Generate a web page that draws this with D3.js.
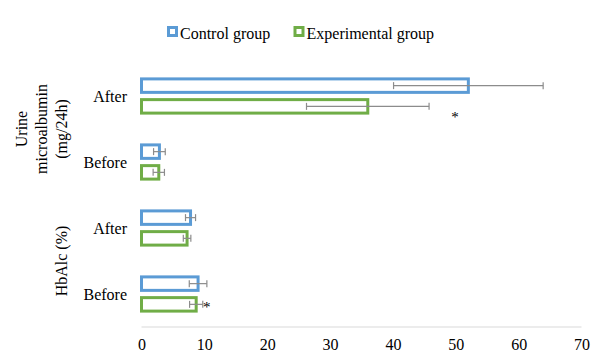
<!DOCTYPE html>
<html>
<head>
<meta charset="utf-8">
<script src="https://cdn.jsdelivr.net/npm/d3@7"></script>
<style>
  html, body { margin: 0; padding: 0; background: #fff; }
  svg { display: block; }
  text { font-family: "Liberation Serif", "Times New Roman", serif; fill: #000; }
</style>
</head>
<body>
<svg id="chart" width="593" height="355"></svg>
<script>
// Category rows, top to bottom
const rows = ["uAfter", "uBefore", "hAfter", "hBefore"];
const rowLabels = ["After", "Before", "After", "Before"];
const seriesNames = ["Control group", "Experimental group"];
const seriesColors = ["#5B9BD5", "#70AD47"];

// Means and error (half-width) per row, per series
const controlValues = [52.0, 2.85, 7.8, 9.0];
const controlErrors = [11.9, 0.93, 0.8, 1.4];
const experimentalValues = [36.0, 2.75, 7.25, 8.7];
const experimentalErrors = [9.75, 0.9, 0.6, 1.05];
// Significance markers (drawn next to experimental bars)
const significance = ["*", "", "", "*"];

const xTicks = [0, 10, 20, 30, 40, 50, 60, 70];

// Group labels spanning two rows each
const groups = [
  { lines: ["Urine", "microalbumin", "(mg/24h)"], rows: ["uAfter", "uBefore"] },
  { lines: ["HbAlc (%)"], rows: ["hAfter", "hBefore"] }
];

const svg = d3.select("#chart");
const plot = { left: 141.5, right: 581.5, top: 63, bottom: 327 };

const x = d3.scaleLinear().domain([0, 70]).range([plot.left, plot.right]);
const y = d3.scaleBand().domain(rows).range([plot.top, plot.bottom]).padding(0);
const inner = d3.scaleBand().domain(seriesNames)
  .range([y.bandwidth() / 2 - 17.1, y.bandwidth() / 2 + 17.1])
  .paddingInner(0.35).paddingOuter(0);

// Axis line (light grey) and tick labels
svg.append("line")
  .attr("x1", x(0)).attr("x2", x(70))
  .attr("y1", plot.bottom).attr("y2", plot.bottom)
  .attr("stroke", "#d9d9d9").attr("stroke-width", 1);

const xAxis = d3.axisBottom(x).tickValues(xTicks).tickSize(0).tickPadding(0);
const axisG = svg.append("g").attr("transform", `translate(0,${plot.bottom})`).call(xAxis);
axisG.select(".domain").remove();
axisG.selectAll("text")
  .attr("font-family", "Liberation Serif, Times New Roman, serif")
  .attr("font-size", 16).attr("fill", "#000")
  .attr("dy", null).attr("y", 23);

// Build bar data
const series = [
  { name: seriesNames[0], values: controlValues, errors: controlErrors, color: seriesColors[0] },
  { name: seriesNames[1], values: experimentalValues, errors: experimentalErrors, color: seriesColors[1] }
];

const bars = [];
series.forEach(s => rows.forEach((r, i) => {
  bars.push({ row: r, series: s.name, value: s.values[i], err: s.errors[i], color: s.color, sig: s.name === seriesNames[1] ? significance[i] : "" });
}));

const barG = svg.append("g");
barG.selectAll("rect").data(bars).join("rect")
  .attr("x", x(0))
  .attr("y", d => y(d.row) + inner(d.series))
  .attr("width", d => x(d.value) - x(0))
  .attr("height", inner.bandwidth())
  .attr("fill", "#fff")
  .attr("stroke", d => d.color)
  .attr("stroke-width", 3);

// Error bars
const errG = svg.append("g").attr("stroke", "#8c8c8c").attr("stroke-width", 1.2);
const cap = 3.5;
bars.forEach(d => {
  const cy = y(d.row) + inner(d.series) + inner.bandwidth() / 2;
  const x0 = x(d.value - d.err), x1 = x(d.value + d.err);
  errG.append("line").attr("x1", x0).attr("x2", x1).attr("y1", cy).attr("y2", cy);
  errG.append("line").attr("x1", x0).attr("x2", x0).attr("y1", cy - cap).attr("y2", cy + cap);
  errG.append("line").attr("x1", x1).attr("x2", x1).attr("y1", cy - cap).attr("y2", cy + cap);
});

// Significance asterisks: the one on the long bar sits further out and lower
bars.filter(d => d.sig).forEach(d => {
  const cy = y(d.row) + inner(d.series) + inner.bandwidth() / 2;
  const far = d.row === "uAfter";
  svg.append("text")
    .attr("x", x(d.value + d.err) + (far ? 26 : 4))
    .attr("y", cy + (far ? 16 : 8))
    .attr("text-anchor", "middle")
    .attr("font-size", 15).text(d.sig);
});

// Row labels
svg.append("g").selectAll("text").data(rows).join("text")
  .attr("x", 127)
  .attr("y", d => y(d) + y.bandwidth() / 2 + 5.5)
  .attr("text-anchor", "end")
  .attr("font-size", 16)
  .text((d, i) => rowLabels[i]);

// Rotated group labels
const groupX = 41.5;
groups.forEach(g => {
  const cy = (y(g.rows[0]) + y(g.rows[1]) + y.bandwidth()) / 2;
  const n = g.lines.length;
  const t = svg.append("text")
    .attr("transform", `translate(${groupX + (n === 1 ? 20 : 0)},${cy}) rotate(-90)`)
    .attr("text-anchor", "middle")
    .attr("font-size", 16);
  g.lines.forEach((ln, i) => {
    t.append("tspan").attr("x", 0).attr("y", (i - (n - 1) / 2) * 20 + 5.5).text(ln);
  });
});

// Legend
const legend = svg.append("g");
const legendItems = [
  { name: seriesNames[0], color: seriesColors[0], x: 167 },
  { name: seriesNames[1], color: seriesColors[1], x: 293.5 }
];
legendItems.forEach(it => {
  legend.append("rect")
    .attr("x", it.x + 1.5).attr("y", 27.5)
    .attr("width", 8).attr("height", 8)
    .attr("fill", "#fff").attr("stroke", it.color).attr("stroke-width", 3);
  legend.append("text")
    .attr("x", it.x + 13).attr("y", 38.5)
    .attr("font-size", 16).text(it.name);
});
</script>
</body>
</html>
